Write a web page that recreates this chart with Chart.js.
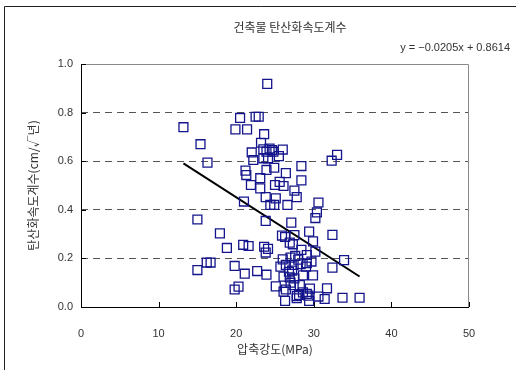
<!DOCTYPE html>
<html>
<head>
<meta charset="utf-8">
<script src="https://cdn.jsdelivr.net/npm/chart.js@4.4.0/dist/chart.umd.min.js"></script>
<style>
body { margin: 0; background: #fff; }
</style>
</head>
<body>
<canvas id="myScatter" width="516" height="370"></canvas>
<script>
// 압축강도(MPa) / 탄산화속도계수
var strength = [24.0,13.2,15.4,16.3,20.5,22.5,22.9,19.9,21.4,23.6,
    23.2,22.0,23.5,23.9,24.6,24.8,24.3,26.0,25.5,22.2,
    23.5,24.1,28.4,32.3,33.0,21.2,21.3,23.9,24.9,23.1,
    26.4,28.4,21.9,23.1,25.0,25.6,26.1,27.5,27.8,23.8,
    25.1,24.4,24.9,26.6,21.0,30.6,30.4,30.2,15.0,23.8,
    27.1,17.9,29.4,32.4,25.9,26.3,27.5,26.9,27.3,29.9,
    28.4,30.2,18.8,20.9,21.6,23.6,24.1,23.8,29.1,29.7,
    33.9,27.0,16.2,16.7,19.8,25.7,26.4,27.4,28.3,29.0,
    29.1,32.4,15.0,22.7,21.1,23.9,26.1,29.9,26.9,27.5,
    25.1,26.4,27.4,28.2,31.7,19.8,20.3,29.5,28.1,27.8,
    29.3,29.1,30.6,31.4,33.7,35.9,26.3,27.8,29.4,26.1,
    26.0,27.6,28.0,26.8,27.2,28.6,27.0,28.6];
var coef = [0.918,0.74,0.67,0.594,0.778,0.783,0.783,0.731,0.731,0.711,
    0.676,0.636,0.649,0.639,0.646,0.639,0.652,0.648,0.621,0.605,
    0.612,0.612,0.58,0.602,0.626,0.561,0.543,0.564,0.573,0.53,
    0.551,0.521,0.502,0.488,0.502,0.515,0.498,0.479,0.452,0.452,
    0.447,0.42,0.42,0.42,0.434,0.43,0.389,0.366,0.36,0.354,
    0.347,0.303,0.31,0.297,0.294,0.288,0.296,0.265,0.258,0.27,
    0.235,0.228,0.243,0.256,0.251,0.248,0.239,0.224,0.214,0.187,
    0.193,0.203,0.183,0.183,0.169,0.166,0.173,0.173,0.176,0.166,
    0.18,0.162,0.152,0.148,0.137,0.133,0.125,0.13,0.122,0.118,
    0.085,0.072,0.09,0.09,0.077,0.072,0.084,0.076,0.05,0.045,
    0.047,0.054,0.043,0.033,0.038,0.038,0.025,0.036,0.025,0.063,
    0.196,0.21,0.195,0.145,0.15,0.13,0.1,0.06];

// 추세선 y = -0.0205x + 0.8614
var slope = -0.0205;
var intercept = 0.8614;

var xTicks = [0, 10, 20, 30, 40, 50];
var yTicks = [0, 0.2, 0.4, 0.6, 0.8, 1.0];

var title = '건축물 탄산화속도계수';
var xTitle = '압축강도(MPa)';
var yTitle = '탄산화속도계수(cm/√년)';
var equation = 'y = \u22120.0205x + 0.8614';

var krFont = '"Noto Sans CJK KR", sans-serif';
var numFont = '"Liberation Sans", Arial, sans-serif';

var points = strength.map(function(x, i){
    return {x: x, y: coef[i]};
});
var xMin = Math.min.apply(null, strength);
var xMax = Math.max.apply(null, strength);
var trend = [xMin, xMax].map(function(x){
    return {x: x, y: slope * x + intercept};
});

// frame, axes, inner tick marks, title and equation
var framePlugin = {
    id: 'frame',
    beforeDraw: function(chart){
        var c = chart.ctx;
        c.save();
        c.fillStyle = '#fff';
        c.fillRect(0, 0, chart.width, chart.height);
        c.restore();
    },
    afterDraw: function(chart){
        var c = chart.ctx, a = chart.chartArea;
        var xs = chart.scales.x, ys = chart.scales.y;
        c.save();
        c.lineWidth = 1;
        // outer border
        c.strokeStyle = '#222';
        c.beginPath();
        c.moveTo(4.5, chart.height);
        c.lineTo(4.5, 6.5);
        c.lineTo(chart.width, 6.5);
        c.stroke();
        // plot top/right
        c.strokeStyle = '#8a8a8a';
        c.beginPath();
        c.moveTo(a.left, a.top + 0.5);
        c.lineTo(a.right - 0.5, a.top + 0.5);
        c.lineTo(a.right - 0.5, a.bottom);
        c.stroke();
        // axes
        c.strokeStyle = '#000';
        c.beginPath();
        c.moveTo(a.left + 0.5, a.top);
        c.lineTo(a.left + 0.5, a.bottom + 0.5);
        c.lineTo(a.right, a.bottom + 0.5);
        c.stroke();
        c.beginPath();
        xTicks.forEach(function(v){
            var px = Math.round(xs.getPixelForValue(v)) + 0.5;
            c.moveTo(px, a.bottom);
            c.lineTo(px, a.bottom - 5);
        });
        yTicks.forEach(function(v){
            var py = Math.round(ys.getPixelForValue(v)) + 0.5;
            c.moveTo(a.left, py);
            c.lineTo(a.left + 5, py);
        });
        c.stroke();
        // texts
        c.fillStyle = '#333';
        c.textBaseline = 'middle';
        c.textAlign = 'center';
        c.font = '12px ' + krFont;
        c.fillText(title, 290, 27);
        c.textAlign = 'right';
        c.font = '11px ' + numFont;
        c.fillText(equation, 510, 48);
        c.restore();
    }
};

var ctx = document.getElementById('myScatter');
var myScatter = new Chart(ctx, {
    type: 'scatter',
    data: {
        datasets: [{
            label: '탄산화속도계수',
            data: points,
            pointStyle: 'rect',
            pointRadius: 6.3,
            pointHoverRadius: 6.3,
            borderColor: '#14148c',
            borderWidth: 1.3,
            backgroundColor: 'rgba(0,0,0,0)',
            clip: false
        }, {
            type: 'line',
            label: '추세선',
            data: trend,
            borderColor: '#000',
            borderWidth: 2,
            pointRadius: 0,
            fill: false
        }]
    },
    options: {
        responsive: false,
        animation: false,
        events: [],
        layout: {
            padding: {left: 20, right: 47, top: 64, bottom: 0}
        },
        plugins: {
            legend: {display: false},
            tooltip: {enabled: false}
        },
        scales: {
            x: {
                type: 'linear',
                min: 0,
                max: 50,
                afterFit: function(s){ s.height = 63; },
                afterBuildTicks: function(s){
                    s.ticks = xTicks.map(function(v){ return {value: v}; });
                },
                grid: {display: false},
                border: {display: false},
                ticks: {
                    padding: 12,
                    color: '#333',
                    font: {family: numFont, size: 11}
                },
                title: {
                    display: true,
                    text: xTitle,
                    color: '#333',
                    font: {family: krFont, size: 12},
                    padding: {top: 0, bottom: 13}
                }
            },
            y: {
                type: 'linear',
                min: 0,
                max: 1,
                afterFit: function(s){ s.width = 61; },
                afterBuildTicks: function(s){
                    s.ticks = yTicks.map(function(v){ return {value: v}; });
                },
                grid: {
                    drawTicks: false,
                    lineWidth: 1,
                    color: function(c){
                        var v = c.tick ? c.tick.value : 0;
                        return (v <= 0.001 || v >= 0.999) ? 'rgba(0,0,0,0)' : '#555';
                    }
                },
                border: {display: false, dash: [7, 5]},
                ticks: {
                    padding: 8,
                    color: '#333',
                    font: {family: numFont, size: 11},
                    callback: function(val){ return val.toFixed(1); }
                },
                title: {
                    display: true,
                    text: yTitle,
                    color: '#333',
                    font: {family: krFont, size: 12},
                    padding: {top: 6, bottom: 0}
                }
            }
        }
    },
    plugins: [framePlugin]
});
</script>
</body>
</html>
